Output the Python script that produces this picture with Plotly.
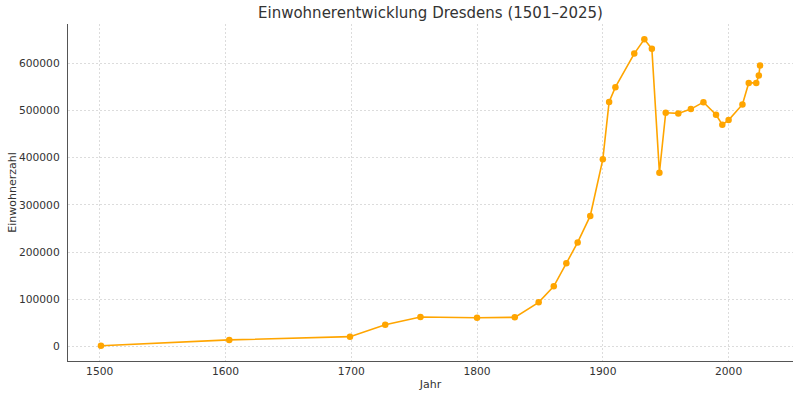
import plotly.graph_objects as go

years = [1501, 1603, 1699, 1727, 1755, 1800, 1830, 1849, 1861, 1871, 1880, 1890,
         1900, 1905, 1910, 1925, 1933, 1939, 1945, 1950, 1960, 1970, 1980, 1990,
         1995, 2000, 2011, 2016, 2022, 2024, 2025]
population = [2000, 14200, 21100, 46500, 62700, 61300, 62000, 93800, 127600, 176800,
              220600, 276800, 396600, 518200, 549300, 620500, 650700, 630500, 368400,
              495200, 493800, 502900, 517700, 491000, 469900, 479600, 512800, 558400,
              558400, 574100, 595200]
y_ticks = [0, 100000, 200000, 300000, 400000, 500000, 600000]
x_ticks = [1500, 1600, 1700, 1800, 1900, 2000]

xmin, xmax = min(years), max(years)
ymin, ymax = min(population), max(population)
xpad = (xmax - xmin) * 0.05
ypad = (ymax - ymin) * 0.05

W, H = 800, 397

font = "DejaVu Sans"
txt = "#333333"
fig = go.Figure()
fig.add_trace(go.Scatter(
    x=years, y=population, mode="lines+markers",
    line=dict(color="#FFA500", width=1.6),
    marker=dict(color="#FFA500", size=6.5),
    showlegend=False,
))

fig.update_layout(
    width=W, height=H,
    paper_bgcolor="white", plot_bgcolor="white",
    margin=dict(l=68, r=7, t=24, b=36, autoexpand=False),
    title=dict(text="Einwohnerentwicklung Dresdens (1501–2025)",
               x=0.5, xref="paper", xanchor="center",
               y=1 - 13 / H, yref="container", yanchor="middle",
               font=dict(family=font, size=15, color=txt)),
    font=dict(family=font, color=txt),
)
common = dict(
    ticks="", tickfont=dict(size=10.7, color=txt),
    showgrid=True, gridcolor="#dcdcdc", griddash="2px,2px", gridwidth=0.8,
    showline=True, linecolor="#555555", linewidth=1.3, mirror=False,
    zeroline=False, automargin=False,
)
fig.update_xaxes(
    range=[xmin - xpad, xmax + xpad], tickvals=x_ticks, ticklabelstandoff=0,
    title=dict(text="Jahr", font=dict(size=11, color=txt), standoff=3),
    **common,
)
fig.update_yaxes(
    range=[ymin - ypad, ymax + ypad], tickvals=y_ticks, tickformat="d",
    ticklabelstandoff=5,
    title=dict(text="Einwohnerzahl", font=dict(size=11, color=txt), standoff=0),
    **common,
)

fig.write_html(
    "out.html",
    config={"displayModeBar": False},
    post_script="document.body.style.margin='0';document.body.style.overflow='hidden';",
)
